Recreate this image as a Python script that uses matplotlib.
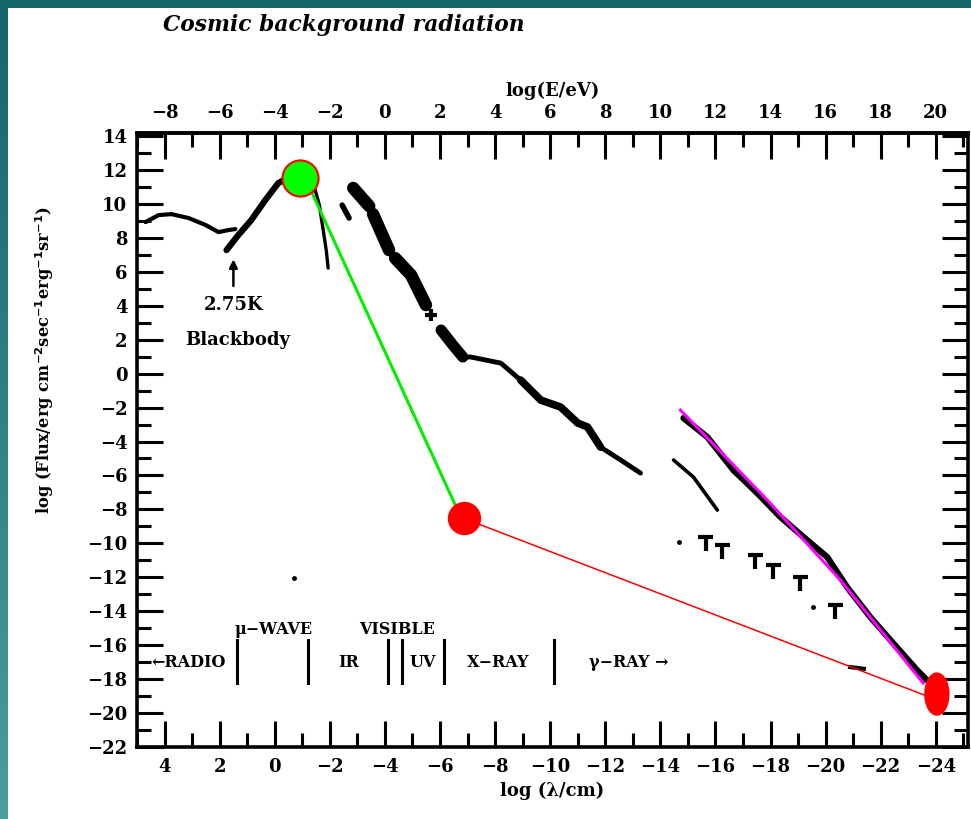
import matplotlib.pyplot as plt
import numpy as np
from matplotlib.patches import Ellipse, Rectangle
from matplotlib.colors import LinearSegmentedColormap

# ---- data, in (log lambda/cm, log flux) ----
radio_lam = [4.69, 4.22, 3.75, 3.13, 2.51, 2.04, 1.68, 1.43]
radio_f = [8.93, 9.34, 9.40, 9.17, 8.76, 8.34, 8.46, 8.52]

cmb_up_lam = [1.75, 1.32, 0.85, 0.34, -0.13, -0.60, -0.96]
cmb_up_f = [7.28, 8.17, 9.05, 10.23, 11.23, 11.64, 11.76]
cmb_down_lam = [-1.18, -1.47, -1.62, -1.76, -1.87, -1.94]
cmb_down_f = [11.53, 10.82, 9.93, 8.46, 7.28, 6.22]

ir_segments = [
    ([-2.45, -2.70], [9.93, 9.17], 4),
    ([-2.85, -3.43], [10.94, 9.87], 9),
    ([-3.57, -4.15], [9.40, 7.28], 9),
    ([-4.37, -4.95, -5.49], [6.81, 5.81, 4.04], 9),
    ([-6.04, -6.47, -6.83], [2.57, 1.68, 0.98], 8),
]
ir_cross_lam, ir_cross_f = -5.67, 3.45

xray_lam = [-6.76, -7.12, -8.21, -8.93, -9.66, -10.38, -11.00, -11.36, -11.83, -12.56, -13.28]
xray_f = [0.98, 0.98, 0.62, -0.38, -1.56, -1.97, -2.91, -3.15, -4.33, -5.09, -5.86]

hx_lam = [-14.48, -15.20, -16.07]
hx_f = [-5.09, -6.09, -8.04]

gamma_lam = [-14.84, -15.71, -16.65, -17.52, -18.36, -19.33, -20.06, -20.78, -21.62, -22.45, -23.32, -23.68]
gamma_f = [-2.62, -3.74, -5.68, -7.04, -8.45, -9.81, -10.81, -12.58, -14.34, -15.88, -17.47, -18.06]

lim_lam = [-15.64, -16.25, -17.45, -18.10, -19.08, -20.35]
lim_f = [-9.63, -10.10, -10.69, -11.28, -11.99, -13.64]
dot_lam = [-14.66, -19.55, -0.71]
dot_f = [-9.92, -13.75, -12.05]
dash_lam, dash_f = -21.14, -17.29

# overlay marks
green_pt = (-0.93, 11.53)
mid_red_pt = (-6.87, -8.51)
end_red_pt = (-24.04, -18.88)
green_line_lam = [-1.20, -6.60]
green_line_f = [11.20, -7.90]
red_line_lam = [-7.30, -23.68]
red_line_f = [-8.80, -19.00]
mag_lam = [-14.73, -17.89, -20.54, -23.54]
mag_f = [-2.15, -7.46, -12.17, -18.23]

band_bars = [1.38, -1.20, -4.12, -4.63, -6.14, -10.13]
band_labels = [("\u2190RADIO", 3.13, -17.05), ("\u03bc\u2212WAVE", 0.05, -15.1),
               ("IR", -2.67, -17.05), ("VISIBLE", -4.44, -15.1),
               ("UV", -5.38, -17.05), ("X\u2212RAY", -8.1, -17.05),
               ("\u03b3\u2212RAY \u2192", -12.85, -17.0)]

FONT = "DejaVu Serif"
plt.rcParams['font.family'] = FONT
plt.rcParams['font.weight'] = 'bold'
plt.rcParams['axes.labelweight'] = 'bold'
plt.rcParams['axes.unicode_minus'] = True

fig = plt.figure(figsize=(9.71, 8.19), dpi=100, facecolor='#13676a')
# white slide area with teal frame on top/left
fig.patches.append(Rectangle((8 / 971, 0), 1, 1 - 8 / 819, transform=fig.transFigure,
                             facecolor='white', edgecolor='none', zorder=-10))
gax = fig.add_axes([0, 0, 8 / 971, 1 - 8 / 819])
grad = np.linspace(0, 1, 100).reshape(-1, 1)
cm = LinearSegmentedColormap.from_list('t', ['#13676a', '#4e9c9c'])
gax.imshow(grad, aspect='auto', cmap=cm)
gax.axis('off')

ax = fig.add_axes([137 / 971, 72 / 819, (968 - 137) / 971, (747 - 133) / 819])
ax.set_xlim(4.94, -25.17)
ax.set_ylim(-22.0, 14.18)

k = 'black'
ax.plot(radio_lam, radio_f, color=k, lw=3.0, solid_capstyle='round')
ax.plot(cmb_up_lam, cmb_up_f, color=k, lw=4.5, solid_capstyle='round')
ax.plot(cmb_down_lam, cmb_down_f, color=k, lw=2.4, solid_capstyle='round')
for lx, fy, w in ir_segments:
    ax.plot(lx, fy, color=k, lw=w, solid_capstyle='round')
ax.plot(ir_cross_lam, ir_cross_f, marker='+', ms=9, mew=3, color=k)
ax.plot(xray_lam, xray_f, color=k, lw=3.5, solid_capstyle='round')
ax.plot(xray_lam[3:9], xray_f[3:9], color=k, lw=5.5, solid_capstyle='round')
ax.plot(hx_lam, hx_f, color=k, lw=2.6, solid_capstyle='round')
ax.plot(gamma_lam, gamma_f, color=k, lw=4.5, solid_capstyle='round')
ax.errorbar(lim_lam, lim_f, xerr=0.28, yerr=[[0.8] * len(lim_f), [0] * len(lim_f)],
            fmt='none', ecolor=k, elinewidth=3, capsize=0)
ax.plot(dot_lam, dot_f, 'o', color=k, ms=2.5)
ax.plot([dash_lam + 0.25, dash_lam - 0.25], [dash_f, dash_f - 0.1], color=k, lw=3)

# annotation
ax.annotate('', xy=(1.5, 6.9), xytext=(1.5, 5.0),
            arrowprops=dict(arrowstyle='-|>', color=k, lw=1.8, mutation_scale=12))
ax.text(1.5, 4.04, '2.75K', ha='center', va='center', fontsize=13)
ax.text(1.36, 1.98, 'Blackbody', ha='center', va='center', fontsize=13)

# band markers
for b in band_bars:
    ax.plot([b, b], [-15.7, -18.23], color=k, lw=2.2)
for txt, lx, fy in band_labels:
    ax.text(lx, fy, txt, ha='center', va='center', fontsize=11.5)

# coloured overlay
ax.plot(green_line_lam, green_line_f, color='#00ee00', lw=2.2, zorder=5)
ax.plot(red_line_lam, red_line_f, color='red', lw=1.1, zorder=5)
ax.plot(mag_lam, mag_f, color='#ff00ff', lw=2.2, zorder=6)
ax.plot(*green_pt, 'o', ms=26, mfc='#00ff00', mec='red', mew=1.5, zorder=7)
ax.plot(*mid_red_pt, 'o', ms=23, mfc='red', mec='red', zorder=7)
ax.add_patch(Ellipse(end_red_pt, width=0.87, height=2.47, color='red', zorder=7))

# axes styling
for s in ax.spines.values():
    s.set_linewidth(2.6)
ax.set_xticks(np.arange(4, -25, -2))
ax.set_xticks(np.arange(5, -26, -1), minor=True)
ax.set_yticks(np.arange(-22, 15, 2))
ax.set_yticks(np.arange(-21, 15, 1), minor=True)
ax.tick_params(which='major', direction='in', length=19, width=2.2, labelsize=13,
               top=False, right=True, pad=8)
ax.tick_params(which='minor', direction='in', length=10, width=2.2, top=False, right=True)
ax.tick_params(axis='y', which='major', pad=7)

sec = ax.secondary_xaxis('top', functions=(lambda l: -4 - l, lambda e: -4 - e))
sec.set_xticks(np.arange(-8, 21, 2))
sec.set_xticks(np.arange(-9, 22, 1), minor=True)
sec.tick_params(which='major', direction='in', length=19, width=2.2, labelsize=13, pad=8)
sec.tick_params(which='minor', direction='in', length=10, width=2.2)
sec.spines['top'].set_linewidth(2.6)
sec.set_xlabel('log(E/eV)', fontsize=13, labelpad=6)

ax.set_xlabel('log (\u03bb/cm)', fontsize=13, labelpad=4)
ax.set_ylabel('log (Flux/erg cm$^{\\mathbf{-2}}$sec$^{\\mathbf{-1}}$erg$^{\\mathbf{-1}}$sr$^{\\mathbf{-1}}$)',
              fontsize=11.7)
ax.yaxis.set_label_coords(-0.097, 0.63)

fig.text(163 / 971, 1 - 25 / 819, 'Cosmic background radiation', ha='left', va='center',
         fontsize=15.7, style='italic', weight='bold', family=FONT)

fig.savefig('out.png', dpi=100, facecolor=fig.get_facecolor())
